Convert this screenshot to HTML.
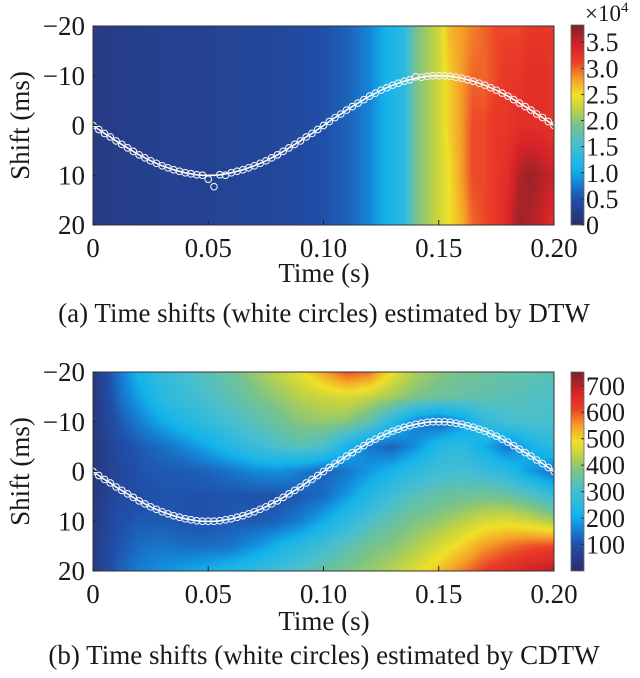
<!DOCTYPE html>
<html><head><meta charset="utf-8"><style>
html,body{margin:0;padding:0;background:#fff;width:640px;height:678px;overflow:hidden}
#wrap{position:relative;width:640px;height:678px}
canvas{position:absolute}
svg{position:absolute;left:0;top:0}
text{font-family:"Liberation Serif",serif;fill:#1a1a1a}
</style></head><body>
<div id="wrap">
<canvas id="ha" width="461" height="199" style="left:93px;top:26px"></canvas>
<canvas id="ca" width="13" height="200" style="left:571px;top:25px"></canvas>
<canvas id="hb" width="461" height="199" style="left:93px;top:372px"></canvas>
<canvas id="cb" width="13" height="199" style="left:571px;top:372px"></canvas>
<svg id="ov" width="640" height="678"></svg>
</div>
<script>
// ---- data ----
const shiftRows = [-20,-10,0,10,20];
const timeCols = [0,0.005,0.01,0.015,0.02,0.025,0.03,0.035,0.04,0.045,0.05,0.055,0.06,0.065,0.07,0.075,0.08,0.085,0.09,0.095,0.1,0.105,0.11,0.115,0.12,0.125,0.13,0.135,0.14,0.145,0.15,0.155,0.16,0.165,0.17,0.175,0.18,0.185,0.19,0.195,0.2];
const gridA_r0 = [0.2,0.2,0.22,0.25,0.25,0.27,0.28,0.3,0.3,0.3,0.3,0.32,0.32,0.34,0.35,0.36,0.38,0.4,0.42,0.45,0.5,0.55,0.6,0.7,0.8,1.0,1.15,1.3,1.9,2.1,2.3,2.7,2.8,2.9,3.0,3.1,3.1,3.1,3.2,3.2,3.2];
const gridA_r1 = [0.2,0.2,0.22,0.25,0.25,0.27,0.28,0.3,0.3,0.3,0.3,0.32,0.32,0.34,0.35,0.36,0.38,0.4,0.42,0.45,0.5,0.55,0.6,0.7,0.8,1.0,1.15,1.3,1.9,2.1,2.3,2.6,2.8,3.0,3.0,3.1,3.2,3.2,3.3,3.3,3.2];
const gridA_r2 = [0.2,0.2,0.22,0.25,0.25,0.27,0.28,0.3,0.3,0.3,0.3,0.32,0.32,0.34,0.35,0.36,0.38,0.4,0.42,0.45,0.5,0.55,0.6,0.7,0.8,1.0,1.15,1.3,1.9,2.1,2.3,2.6,2.8,3.1,3.1,3.2,3.2,3.3,3.3,3.3,3.2];
const gridA_r3 = [0.2,0.2,0.22,0.25,0.25,0.27,0.28,0.3,0.3,0.3,0.3,0.32,0.32,0.34,0.35,0.36,0.38,0.4,0.42,0.45,0.5,0.55,0.6,0.7,0.8,1.0,1.15,1.3,1.9,2.1,2.3,2.5,2.8,3.1,3.1,3.2,3.3,3.6,3.7,3.6,3.5];
const gridA_r4 = [0.2,0.2,0.22,0.25,0.25,0.27,0.28,0.3,0.3,0.3,0.3,0.32,0.32,0.34,0.35,0.36,0.38,0.4,0.42,0.45,0.5,0.55,0.6,0.7,0.8,1.0,1.15,1.3,1.9,2.1,2.3,2.5,2.7,3.0,3.1,3.2,3.4,3.7,3.6,3.5,3.3];
const shiftRowsB = [-20,-15,-10,-5,0,5,10,15,20];
const timeColsB = [0,0.01,0.02,0.03,0.04,0.05,0.06,0.07,0.08,0.09,0.1,0.11,0.12,0.13,0.14,0.15,0.16,0.17,0.18,0.19,0.2];
const gridB_r0 = [30,130,220,270,300,330,360,400,440,480,540,600,580,480,420,390,370,360,350,340,330];
const gridB_r1 = [30,120,190,250,280,310,340,370,400,430,450,460,440,410,380,360,350,340,330,320,310];
const gridB_r2 = [30,100,150,200,240,270,300,330,360,390,400,390,340,250,150,120,170,260,300,310,300];
const gridB_r3 = [30,80,110,130,160,200,240,280,310,330,310,220,140,120,170,240,260,200,140,210,260];
const gridB_r4 = [30,70,100,110,110,120,140,160,170,150,120,140,180,220,260,290,300,280,250,180,130];
const gridB_r5 = [30,80,90,100,100,100,100,100,100,110,130,180,240,290,330,350,360,370,360,330,280];
const gridB_r6 = [40,90,110,110,100,100,110,110,120,150,200,260,310,350,380,400,430,460,470,450,420];
const gridB_r7 = [40,100,130,140,130,130,140,170,210,250,290,330,370,390,420,460,500,550,580,600,610];
const gridB_r8 = [40,110,150,170,190,210,230,260,290,320,350,380,400,430,470,520,570,620,650,680,700];
const circleTimes = [0,0.0025,0.005,0.0075,0.01,0.0125,0.015,0.0175,0.02,0.0225,0.025,0.0275,0.03,0.0325,0.035,0.0375,0.04,0.0425,0.045,0.0475,0.05,0.0525,0.055,0.0575,0.06,0.0625,0.065,0.0675,0.07,0.0725,0.075,0.0775,0.08,0.0825,0.085,0.0875,0.09,0.0925,0.095,0.0975,0.1,0.1025,0.105,0.1075,0.11,0.1125,0.115,0.1175,0.12,0.1225,0.125,0.1275,0.13,0.1325,0.135,0.1375,0.14,0.1425,0.145,0.1475,0.15,0.1525,0.155,0.1575,0.16,0.1625,0.165,0.1675,0.17,0.1725,0.175,0.1775,0.18,0.1825,0.185,0.1875,0.19,0.1925,0.195,0.1975,0.2];
const trueShift = [0,0.8,1.6,2.3,3.1,3.8,4.5,5.2,5.9,6.5,7.1,7.6,8.1,8.5,8.9,9.2,9.5,9.7,9.9,10,10,10,9.9,9.7,9.5,9.2,8.9,8.5,8.1,7.6,7.1,6.5,5.9,5.2,4.5,3.8,3.1,2.3,1.6,0.8,0,-0.8,-1.6,-2.3,-3.1,-3.8,-4.5,-5.2,-5.9,-6.5,-7.1,-7.6,-8.1,-8.5,-8.9,-9.2,-9.5,-9.7,-9.9,-10,-10,-10,-9.9,-9.7,-9.5,-9.2,-8.9,-8.5,-8.1,-7.6,-7.1,-6.5,-5.9,-5.2,-4.5,-3.8,-3.1,-2.3,-1.6,-0.8,0];
const dtwShift = [0,0.8,1.6,2.3,3.1,3.8,4.5,5.2,5.9,6.5,7.1,7.6,8.1,8.5,8.9,9.2,9.5,9.7,9.9,10,10.8,12.3,9.9,10,9.5,9.2,8.9,8.5,8.1,7.6,7.1,6.5,5.9,5.2,4.5,3.8,3.1,2.3,1.6,0.8,0,-0.8,-1.6,-2.3,-3.1,-3.8,-4.5,-5.2,-5.9,-6.5,-7.1,-7.6,-8.1,-8.5,-8.9,-9.2,-9.8,-9.7,-9.9,-10,-10,-10,-9.9,-9.7,-9.5,-9.2,-8.9,-8.5,-8.1,-7.6,-7.1,-6.5,-5.9,-5.2,-4.5,-3.8,-3.1,-2.3,-1.6,-0.8,0];
const cdtwShift = trueShift;
const xTicks = [0,0.05,0.10,0.15,0.20];
const xTickLabels = ["0","0.05","0.10","0.15","0.20"];
const yTicks = [-20,-10,0,10,20];
const yTickLabels = ["\u221220","\u221210","0","10","20"];
const cbTicksA = [0,0.5,1.0,1.5,2.0,2.5,3.0,3.5];
const cbTickLabelsA = ["0","0.5","1.0","1.5","2.0","2.5","3.0","3.5"];
const cbTicksB = [100,200,300,400,500,600,700];
const cbTickLabelsB = ["100","200","300","400","500","600","700"];
const rangeA = [0,3.83], rangeB = [0,752];

// ---- helpers ----
const cmapStops = [[0,[43,46,108]],[0.13,[32,80,170]],[0.22,[20,140,220]],[0.28,[20,180,235]],[0.4,[70,190,210]],[0.5,[120,195,140]],[0.58,[190,210,70]],[0.65,[240,225,40]],[0.73,[245,160,40]],[0.82,[235,60,40]],[0.9,[215,35,40]],[1,[122,36,40]]];
function cmap(v){
  v=Math.max(0,Math.min(1,v));
  for(let i=0;i<cmapStops.length-1;i++){
    const a=cmapStops[i],b=cmapStops[i+1];
    if(v<=b[0]){const f=(v-a[0])/(b[0]-a[0]);return [0,1,2].map(k=>Math.round(a[1][k]+(b[1][k]-a[1][k])*f));}
  }
  return cmapStops[cmapStops.length-1][1];
}
function interp(grid,cols,rows,t,s){
  let ci=0; while(ci<cols.length-2 && t>cols[ci+1]) ci++;
  let ri=0; while(ri<rows.length-2 && s>rows[ri+1]) ri++;
  const fx=Math.max(0,Math.min(1,(t-cols[ci])/(cols[ci+1]-cols[ci])));
  const fy=Math.max(0,Math.min(1,(s-rows[ri])/(rows[ri+1]-rows[ri])));
  const a=grid[ri][ci],b=grid[ri][ci+1],c=grid[ri+1][ci],d=grid[ri+1][ci+1];
  return (a*(1-fx)+b*fx)*(1-fy)+(c*(1-fx)+d*fx)*fy;
}
function paint(id,grid,cols,rows,range){
  const cv=document.getElementById(id),ctx=cv.getContext('2d');
  const W=cv.width,H=cv.height,img=ctx.createImageData(W,H);
  for(let y=0;y<H;y++)for(let x=0;x<W;x++){
    const t=0.2*x/(W-1), s=-20+40*y/(H-1);
    const v=interp(grid,cols,rows,t,s);
    const col=cmap((v-range[0])/(range[1]-range[0]));
    const k=(y*W+x)*4; img.data[k]=col[0];img.data[k+1]=col[1];img.data[k+2]=col[2];img.data[k+3]=255;
  }
  ctx.putImageData(img,0,0);
}
function paintBar(id){
  const cv=document.getElementById(id),ctx=cv.getContext('2d');
  for(let y=0;y<cv.height;y++){const c=cmap(1-y/(cv.height-1));ctx.fillStyle=`rgb(${c[0]},${c[1]},${c[2]})`;ctx.fillRect(0,y,cv.width,1);}
}
paint('ha',[gridA_r0,gridA_r1,gridA_r2,gridA_r3,gridA_r4],timeCols,shiftRows,rangeA);
paint('hb',[gridB_r0,gridB_r1,gridB_r2,gridB_r3,gridB_r4,gridB_r5,gridB_r6,gridB_r7,gridB_r8],timeColsB,shiftRowsB,rangeB);
paintBar('ca');paintBar('cb');

const NS='http://www.w3.org/2000/svg', svg=document.getElementById('ov');
function el(tag,attrs,parent,txt){const e=document.createElementNS(NS,tag);for(const k in attrs)e.setAttribute(k,attrs[k]);if(txt!==undefined)e.textContent=txt;(parent||svg).appendChild(e);return e;}

function panel(key,top,shifts,cbTop,cbH,cbTicks,cbLabels,cbRange,caption,labelY,titleY,capY){
  const L=93,R=554,T=top,B=top+199;
  const xS=t=>L+(R-L)*t/0.2, yS=s=>T+(B-T)*(s+20)/40;
  const g=el('g',{});
  
  
  let d='';
  for(let i=0;i<circleTimes.length;i++){d+=(i?'L':'M')+xS(circleTimes[i]).toFixed(1)+' '+yS(trueShift[i]).toFixed(1);}
  const ln=el('path',{d:d,fill:'none',stroke:'#fff','stroke-width':1.6},g);
  
  
  for(let i=0;i<circleTimes.length;i++){
    const c=el('circle',{cx:xS(circleTimes[i]),cy:yS(shifts[i]),r:3.3,fill:'none',stroke:'#eef0f4','stroke-width':1.1},g);
    
    
  }
  const fr=el('rect',{x:L,y:T,width:R-L,height:B-T,fill:'none',stroke:'#333','stroke-width':1},g);
  
  
  for(let i=0;i<xTicks.length;i++){
    const x=xS(xTicks[i]);
    el('line',{x1:x,y1:B,x2:x,y2:B-5,stroke:'#222'},g);
    const tx=el('text',{x:x,y:labelY,'font-size':27,'text-anchor':'middle'},g,xTickLabels[i]);
    
    
  }
  for(let i=0;i<yTicks.length;i++){
    const y=yS(yTicks[i]);
    el('line',{x1:L,y1:y,x2:L+4,y2:y,stroke:'#222'},g);
    const tx=el('text',{x:85,y:y+9,'font-size':27,'text-anchor':'end'},g,yTickLabels[i]);
    
    
  }
  const xt=el('text',{x:324,y:titleY,'font-size':27,'text-anchor':'middle'},g,'Time (s)');
  
  
  const yt=el('text',{x:0,y:0,'font-size':27,'text-anchor':'middle',transform:`translate(29,${(T+B)/2}) rotate(-90)`},g,'Shift (ms)');
  
  
  const cf=el('rect',{x:571,y:cbTop,width:13,height:cbH,fill:'none',stroke:'#666','stroke-width':0.8},g);
  
  
  for(let i=0;i<cbTicks.length;i++){
    const y=cbTop+cbH*(1-(cbTicks[i]-cbRange[0])/(cbRange[1]-cbRange[0]));
    el('line',{x1:584,y1:y,x2:581,y2:y,stroke:'#333'},g);
    const tx=el('text',{x:586,y:y+9,'font-size':26},g,cbLabels[i]);
    
    
  }
  const cp=el('text',{x:324,y:capY,'font-size':27,'text-anchor':'middle'},g,caption);
  
  
  return g;
}
panel('a',26,dtwShift,25,200,cbTicksA,cbTickLabelsA,rangeA,'(a) Time shifts (white circles) estimated by DTW',257,282,322);
panel('b',372,cdtwShift,372,199,cbTicksB,cbTickLabelsB,rangeB,'(b) Time shifts (white circles) estimated by CDTW',603,630,664);
const ex=el('text',{x:585,y:21,'font-size':23});


ex.textContent='\u00d710';
const sup=el('tspan',{dy:-9,'font-size':15},ex,'4');
</script>
</body></html>
